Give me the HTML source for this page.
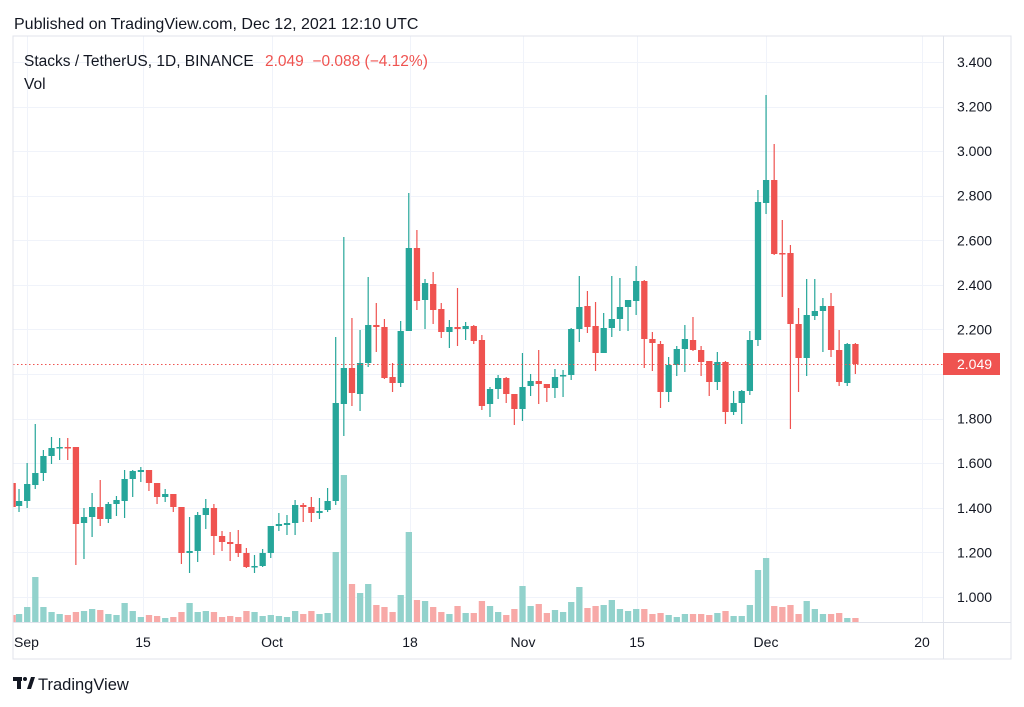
<!DOCTYPE html>
<html><head><meta charset="utf-8"><style>
body{margin:0;background:#fff;width:1024px;height:707px;overflow:hidden;font-family:"Liberation Sans",sans-serif;}
svg{position:absolute;left:0;top:0}
</style></head><body>
<svg id="s" width="1024" height="707" xmlns="http://www.w3.org/2000/svg" font-family="Liberation Sans, sans-serif">
<defs><clipPath id="cp"><rect x="13" y="36" width="930" height="587"/></clipPath></defs>
<rect width="1024" height="707" fill="#fff"/>
<g id="grid" stroke="#f0f3fa" stroke-width="1"></g>
<g clip-path="url(#cp)"><g id="vol"></g><g id="candles"></g></g>
<line x1="13" y1="364.5" x2="943" y2="364.5" stroke="#ef5350" stroke-width="1" stroke-dasharray="1.5,2.5"/>
<rect x="13" y="36" width="998" height="623" fill="none" stroke="#e0e3eb"/>
<line x1="943.5" y1="36" x2="943.5" y2="659" stroke="#e0e3eb"/>
<line x1="13" y1="622.5" x2="1011" y2="622.5" stroke="#e0e3eb"/>
<g id="plab" font-size="14" fill="#131722"></g>
<rect x="943" y="353" width="57" height="22" fill="#ef5350"/>
<text x="957" y="369" font-size="14" fill="#fff">2.049</text>
<g font-size="14" fill="#131722">
<text x="14" y="647">Sep</text><text x="143" y="647" text-anchor="middle">15</text>
<text x="272" y="647" text-anchor="middle">Oct</text><text x="410" y="647" text-anchor="middle">18</text>
<text x="523" y="647" text-anchor="middle">Nov</text><text x="637" y="647" text-anchor="middle">15</text>
<text x="766" y="647" text-anchor="middle">Dec</text><text x="922" y="647" text-anchor="middle">20</text>
</g>
<text x="14" y="29" font-size="16" fill="#131722">Published on TradingView.com, Dec 12, 2021 12:10 UTC</text>
<text x="24" y="66" font-size="15.5" fill="#131722">Stacks / TetherUS, 1D, BINANCE</text>
<text x="265" y="66" font-size="15.5" fill="#ef5350" xml:space="preserve">2.049  −0.088 (−4.12%)</text>
<text x="24" y="89" font-size="15.5" fill="#131722">Vol</text>
<g fill="#131722"><rect x="13" y="677" width="9" height="4"/><rect x="17" y="677" width="4" height="12"/><circle cx="25" cy="679" r="2"/><polygon points="27,689 31,677 35,677 31,689"/></g>
<text x="38" y="690" font-size="16.5" fill="#131722">TradingView</text>
</svg>
<script>
var NS="http://www.w3.org/2000/svg";
function el(p,t,a){var e=document.createElementNS(NS,t);for(var k in a)e.setAttribute(k,a[k]);p.appendChild(e);return e;}
var g=document.getElementById('grid');
[62,107,151,196,240,285,329,374,419,463,508,552,597].forEach(function(y){el(g,'line',{x1:13,x2:943,y1:y+.5,y2:y+.5});});
[27,143,272,410,523,637,766,922].forEach(function(x){el(g,'line',{x1:x+.5,x2:x+.5,y1:36,y2:622});});
var pl=document.getElementById('plab');
var labs=["3.400","3.200","3.000","2.800","2.600","2.400","2.200","2.000","1.800","1.600","1.400","1.200","1.000"];
labs.forEach(function(t,i){var y=62+i*44.58;if(t=="2.000")return;var e=el(pl,'text',{x:957,y:y+5});e.textContent=t;});
var C=[[483,480,507,507],[506,489,512,501],[501,463,508,484],[485,424,489,473],[473,450,481,456],[456,437,464,448],[448,438,460,447],[447,438,460,448],[447,447,565,524],[523,508,559,517],[517,493,537,507],[507,480,526,519],[519,502,523,504],[504,496,516,500],[501,470,518,479],[479,470,497,471],[472,467,482,470],[470,470,491,483],[483,483,504,497],[497,489,502,494],[494,494,512,507],[507,507,564,553],[553,517,573,551],[551,512,562,515],[515,499,529,508],[508,504,555,536],[536,531,551,542],[542,532,561,544],[544,530,557,553],[553,548,568,567],[567,555,573,566],[566,549,567,553],[553,526,558,526],[526,513,531,524],[525,515,535,523],[523,500,535,505],[505,503,522,507],[507,497,522,513],[513,498,519,511],[510,488,512,501],[501,337,505,403],[404,237,436,368],[368,318,406,393],[394,330,411,363],[363,277,367,325],[325,303,352,327],[327,319,379,378],[377,363,392,383],[383,321,387,331],[331,193,331,248],[248,230,310,301],[300,279,329,283],[284,272,324,310],[309,303,338,332],[332,320,348,327],[327,288,346,329],[329,322,340,326],[326,325,344,341],[340,335,410,406],[404,387,417,389],[389,375,399,378],[378,377,403,394],[394,394,425,409],[409,353,421,387],[386,374,396,381],[381,350,404,384],[384,384,402,388],[388,369,398,377],[376,370,397,375],[375,328,380,329],[329,276,342,307],[306,291,333,327],[326,302,371,353],[353,313,353,328],[328,276,337,319],[319,278,331,307],[307,300,331,300],[301,266,315,281],[281,280,368,339],[339,332,371,343],[344,341,408,392],[392,357,402,365],[365,346,376,349],[349,325,372,339],[340,317,351,350],[350,346,376,362],[361,361,396,382],[382,352,390,362],[362,361,424,412],[412,391,415,403],[403,390,424,391],[391,331,395,340],[340,190,346,202],[203,95,214,180],[180,144,255,254],[253,220,297,254],[253,245,429,324],[324,308,392,358],[358,279,376,315],[316,279,320,311],[311,298,352,306],[306,293,357,350],[350,330,386,382],[383,343,386,344],[344,343,374,364]];
var V=[615,614,607,577,607,612,614,615,612,611,609,610,614,615,603,611,617,615,616,618,617,612,603,612,611,612,617,616,617,611,612,616,615,616,617,611,614,611,614,613,552,475,584,593,584,605,607,612,595,532,600,601,607,612,614,606,613,613,601,606,612,615,609,586,606,604,613,610,612,602,587,608,606,605,600,609,611,609,609,614,613,615,617,614,614,614,615,613,611,616,616,605,570,558,606,607,605,614,601,609,614,614,613,618,618];
var vg=document.getElementById('vol'),cg=document.getElementById('candles');
C.forEach(function(c,i){
 var x=12.5+8.12*i,up=c[3]<=c[0];
 if(i>0)x=10.8+8.12*i;
 var col=up?'#26a69a':'#ef5350';
 var v=V[i];el(vg,'rect',{x:x-3,y:v,width:6.3,height:622-v,fill:up?'#92d2cc':'#f7a9a7'});
 el(cg,'rect',{x:x-0.5,y:c[1],width:1.2,height:Math.max(1,c[2]-c[1]),fill:col});
 var t=Math.min(c[0],c[3]),b=Math.max(c[0],c[3]);
 el(cg,'rect',{x:x-3,y:t,width:6.3,height:Math.max(1.5,b-t),fill:col});
});
</script>
</body></html>
